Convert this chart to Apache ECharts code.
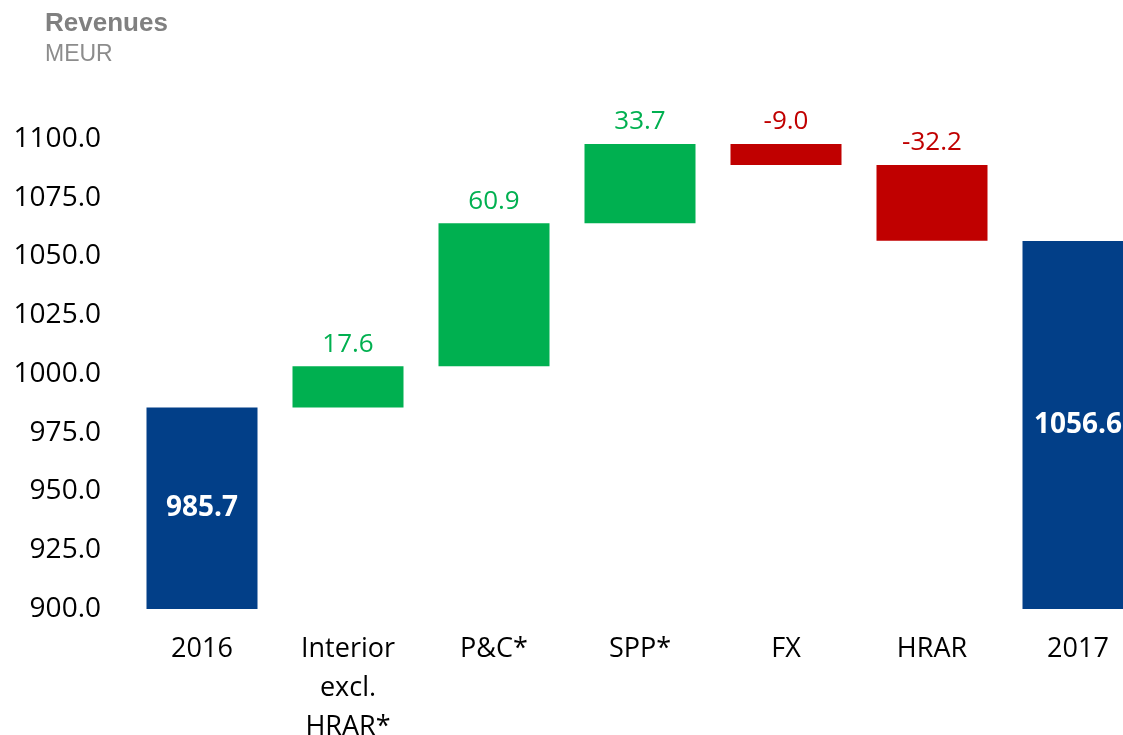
<!DOCTYPE html>
<html>
<head>
<meta charset="utf-8">
<script src="https://cdn.jsdelivr.net/npm/echarts@6/dist/echarts.min.js"></script>
<style>
html,body{margin:0;padding:0;background:#fff;}
#chart{width:1123px;height:735px;}
</style>
</head>
<body>
<div id="chart"></div>
<script>
// ---- data ----
var categories = ['2016', 'Interior\nexcl.\nHRAR*', 'P&C*', 'SPP*', 'FX', 'HRAR', '2017'];
var values = [985.7, 17.6, 60.9, 33.7, -9.0, -32.2, 1056.6];
var isTotal = [true, false, false, false, false, false, true];
var yTicks = { min: 900, max: 1100, interval: 25 };

// ---- build waterfall ----
var BLUE = '#023F88', GREEN = '#00B050', RED = '#C00000';
var baseData = [], barData = [];
var running = 0;
for (var i = 0; i < values.length; i++) {
  var v = values[i];
  if (isTotal[i]) {
    running = v;
    baseData.push(yTicks.min);
    barData.push({
      value: v - yTicks.min,
      itemStyle: { color: BLUE },
      label: { show: true, position: 'inside', color: '#fff', fontWeight: 'bold', fontSize: 28,
               formatter: (function (x) { return function () { return x.toFixed(1); }; })(v) }
    });
  } else {
    var start = running, end = running + v;
    running = end;
    baseData.push(Math.min(start, end));
    barData.push({
      value: Math.abs(v),
      itemStyle: { color: v >= 0 ? GREEN : RED },
      label: { show: true, position: 'top', distance: 9, color: v >= 0 ? GREEN : RED, fontSize: 26,
               formatter: (function (x) { return function () { return x.toFixed(1); }; })(v) }
    });
  }
}

var chart = echarts.init(document.getElementById('chart'), null, { renderer: 'canvas' });
chart.setOption({
  animation: false,
  textStyle: { fontFamily: 'Open Sans' },
  title: {
    text: 'Revenues',
    subtext: 'MEUR',
    left: 45, top: 11, padding: 0, itemGap: 6,
    textStyle: { fontFamily: 'Liberation Sans', fontSize: 26, fontWeight: 'bold', color: '#808080' },
    subtextStyle: { fontFamily: 'Liberation Sans', fontSize: 23, color: '#8c8c8c' }
  },
  grid: { left: 129, right: -28, top: 139, bottom: 126, containLabel: false, outerBoundsMode: 'none' },
  xAxis: {
    type: 'category',
    data: categories,
    axisLine: { show: false },
    axisTick: { show: false },
    axisLabel: { color: '#000', fontSize: 27, lineHeight: 39, margin: 21, interval: 0, fontFamily: 'Open Sans' }
  },
  yAxis: {
    type: 'value',
    min: yTicks.min, max: yTicks.max, interval: yTicks.interval,
    axisLine: { show: false },
    axisTick: { show: false },
    splitLine: { show: false },
    axisLabel: { color: '#000', fontSize: 28, margin: 28, fontFamily: 'Open Sans',
                 formatter: function (v) { return v.toFixed(1); } }
  },
  series: [
    { type: 'bar', stack: 'w', data: baseData, barWidth: 111,
      itemStyle: { color: 'transparent' }, silent: true },
    { type: 'bar', stack: 'w', data: barData, barWidth: 111,
      labelLayout: { hideOverlap: false } }
  ]
});
</script>
</body>
</html>
